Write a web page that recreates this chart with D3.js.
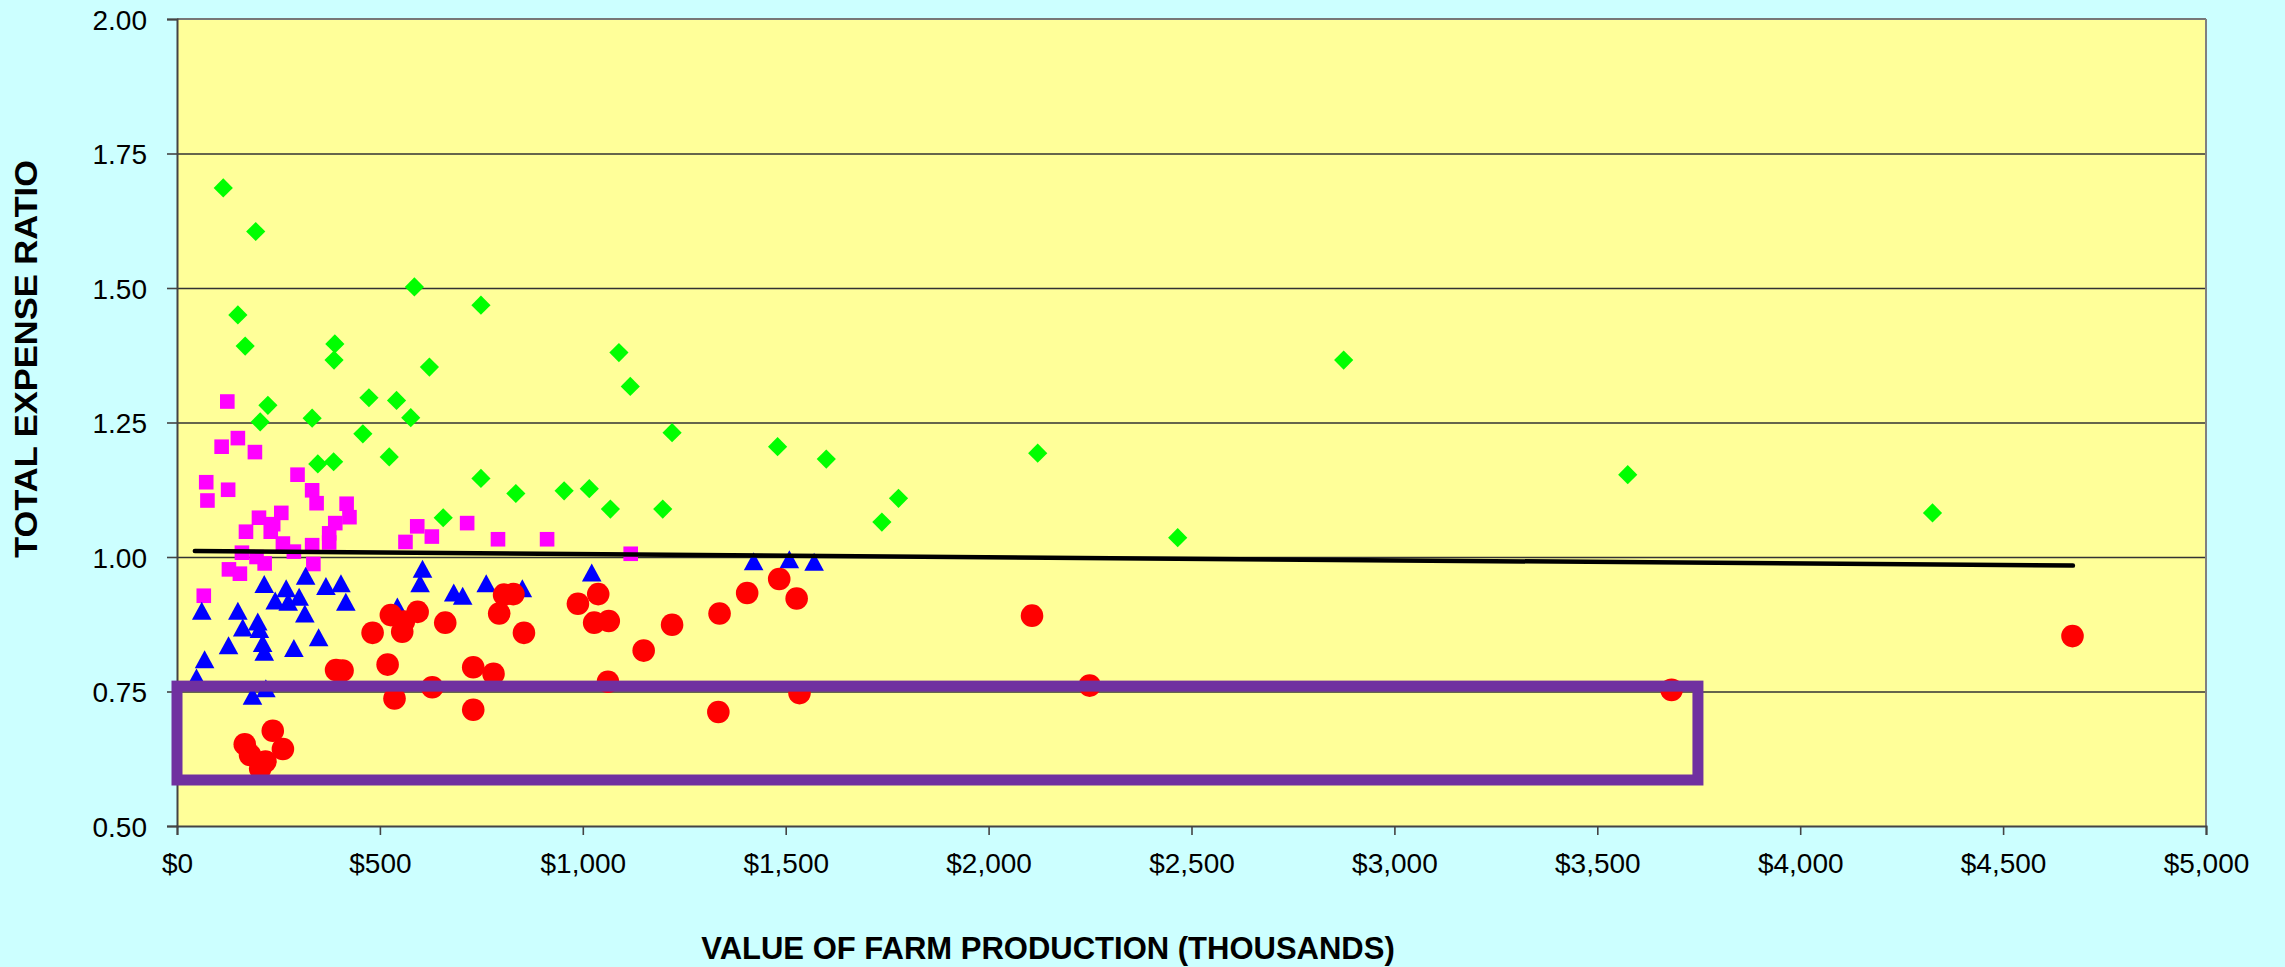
<!DOCTYPE html>
<html><head><meta charset="utf-8">
<script src="https://cdn.jsdelivr.net/npm/d3@7"></script>
<style>html,body{margin:0;padding:0;background:#CCFFFF;overflow:hidden}</style>
</head><body>
<svg id="chart" width="2285" height="967"></svg>
<script>
// ---- data (value of farm production in $ thousands, total expense ratio) ----
const greenX = [114,194,585,749,150,168,389,387,622,1089,1117,224,205,333,473,541,576,458,347,386,523,749,835,954,1016,1068,656,1220,1480,1600,2121,1197,1778,1737,2466,2875,3575,4326];
const greenY = [1.686,1.605,1.502,1.468,1.450,1.392,1.396,1.366,1.353,1.380,1.317,1.282,1.251,1.258,1.296,1.291,1.259,1.229,1.173,1.177,1.186,1.146,1.118,1.123,1.127,1.089,1.073,1.231,1.205,1.182,1.193,1.089,1.109,1.065,1.036,1.366,1.153,1.082];

const magentaX = [124,150,110,192,297,72,126,75,333,344,418,425,257,202,237,231,170,390,375,333,375,261,160,288,196,216,336,128,155,66,592,628,563,715,791,912,1118];
const magentaY = [1.289,1.221,1.205,1.195,1.153,1.139,1.125,1.105,1.124,1.100,1.099,1.074,1.082,1.073,1.061,1.047,1.047,1.063,1.044,1.022,1.027,1.025,1.008,1.010,1.000,0.988,0.987,0.977,0.969,0.928,1.057,1.038,1.028,1.063,1.033,1.033,1.006];

const blueX = [61,150,199,203,162,127,211,215,68,48,186,219,215,269,301,242,274,317,315,367,404,416,349,288,605,599,682,704,762,851,1022,543,1421,1509,1570];
const blueY = [0.900,0.900,0.880,0.866,0.869,0.836,0.840,0.824,0.810,0.776,0.742,0.756,0.950,0.942,0.926,0.919,0.917,0.965,0.895,0.946,0.951,0.917,0.851,0.831,0.978,0.951,0.934,0.928,0.951,0.942,0.971,0.908,0.992,0.996,0.991];

const redX = [167,180,205,218,236,261,392,408,482,519,527,555,559,593,661,536,629,730,780,730,794,806,829,855,988,1038,1028,1064,1062,1150,1220,1337,1405,1484,1527,2107,1334,1534,2249,3683,4671];
const redY = [0.652,0.632,0.607,0.620,0.677,0.643,0.790,0.789,0.859,0.800,0.892,0.861,0.880,0.898,0.878,0.737,0.758,0.795,0.783,0.716,0.895,0.930,0.931,0.859,0.913,0.931,0.878,0.881,0.768,0.826,0.874,0.895,0.933,0.959,0.923,0.891,0.712,0.747,0.761,0.753,0.853];

const trendX = [44, 4672];
const trendY = [1.011, 0.984];

const boxX = [0, 3748];
const boxY = [0.5855, 0.760];

const xTicks = [0,500,1000,1500,2000,2500,3000,3500,4000,4500,5000];
const yTicks = [0.50,0.75,1.00,1.25,1.50,1.75,2.00];
const xTitle = "VALUE OF FARM PRODUCTION (THOUSANDS)";
const yTitle = "TOTAL EXPENSE RATIO";

// ---- layout ----
const svg = d3.select("#chart");
const L = 177, R = 2206, T = 19, B = 826;
const x = d3.scaleLinear().domain([0, 5000]).range([L, R]);
const y = d3.scaleLinear().domain([0.5, 2.0]).range([B, T]);
const font = "'Liberation Sans', Arial, sans-serif";

svg.append("rect").attr("x",0).attr("y",0).attr("width",2285).attr("height",967).attr("fill","#CCFFFF");
svg.append("rect").attr("x",L).attr("y",T).attr("width",R-L).attr("height",B-T).attr("fill","#FFFF99");

// gridlines
const grid = svg.append("g").attr("transform",`translate(${L},0)`)
  .call(d3.axisLeft(y).tickValues(yTicks.filter(v=>v>0.5 && v<2)).tickSize(-(R-L)).tickFormat(""));
grid.select(".domain").remove();
grid.selectAll("line").attr("stroke","#333").attr("stroke-width",1.3);

// plot border (top, right)
svg.append("line").attr("x1",L).attr("x2",R).attr("y1",T).attr("y2",T).attr("stroke","#777").attr("stroke-width",2);
svg.append("line").attr("x1",R).attr("x2",R).attr("y1",T).attr("y2",B).attr("stroke","#808080").attr("stroke-width",2);

// axes
const yAxis = svg.append("g").attr("transform",`translate(${L},0)`)
  .call(d3.axisLeft(y).tickValues(yTicks).tickSize(10).tickPadding(20).tickFormat(d3.format(".2f")));
const xAxis = svg.append("g").attr("transform",`translate(0,${B})`)
  .call(d3.axisBottom(x).tickValues(xTicks).tickSize(9).tickPadding(18).tickFormat(d => "$" + d3.format(",")(d)));
[yAxis, xAxis].forEach(g => {
  g.select(".domain").attr("stroke","#444").attr("stroke-width",2);
  g.selectAll(".tick line").attr("stroke","#444").attr("stroke-width",1.6);
  g.selectAll(".tick text").attr("fill","#000").style("font-family",font).style("font-size","28px");
});
yAxis.selectAll(".tick text").attr("dy","0.36em");

// markers
const diamond = s => `M0,${-s}L${s},0L0,${s}L${-s},0Z`;
const square = s => `M${-s},${-s}H${s}V${s}H${-s}Z`;
const triangle = (w,h) => `M0,${-h/2}L${w/2},${h/2}L${-w/2},${h/2}Z`;

const plot = svg.append("g");
plot.selectAll(".g").data(d3.range(greenX.length)).join("path")
  .attr("d", diamond(9.6)).attr("fill","#00FF00")
  .attr("transform", i => `translate(${x(greenX[i])},${y(greenY[i])})`);
plot.selectAll(".m").data(d3.range(magentaX.length)).join("path")
  .attr("d", square(7.3)).attr("fill","#FF00FF")
  .attr("transform", i => `translate(${x(magentaX[i])},${y(magentaY[i])})`);
plot.selectAll(".b").data(d3.range(blueX.length)).join("path")
  .attr("d", triangle(19.6,18)).attr("fill","#0000FF")
  .attr("transform", i => `translate(${x(blueX[i])},${y(blueY[i])})`);
plot.selectAll(".r").data(d3.range(redX.length)).join("circle")
  .attr("r", 11.3).attr("fill","#FF0000")
  .attr("cx", i => x(redX[i])).attr("cy", i => y(redY[i]));

// trendline
svg.append("path")
  .datum(d3.range(trendX.length))
  .attr("d", d3.line().x(i => x(trendX[i])).y(i => y(trendY[i])))
  .attr("stroke","#000").attr("stroke-width",4.5).attr("stroke-linecap","round").attr("fill","none");

// highlight box
svg.append("rect")
  .attr("x", x(boxX[0])).attr("y", y(boxY[1]))
  .attr("width", x(boxX[1]) - x(boxX[0])).attr("height", y(boxY[0]) - y(boxY[1]))
  .attr("fill","none").attr("stroke","#7030A0").attr("stroke-width",11);

// titles
svg.append("text").attr("x",1048).attr("y",959).attr("text-anchor","middle")
  .style("font-family",font).style("font-size","31px").style("font-weight","bold").attr("fill","#000")
  .text(xTitle);
svg.append("text").attr("transform","translate(37,558) rotate(-90)").attr("text-anchor","start")
  .attr("textLength",398).attr("lengthAdjust","spacingAndGlyphs")
  .style("font-family",font).style("font-size","31px").style("font-weight","bold").attr("fill","#000")
  .text(yTitle);
</script>
</body></html>
